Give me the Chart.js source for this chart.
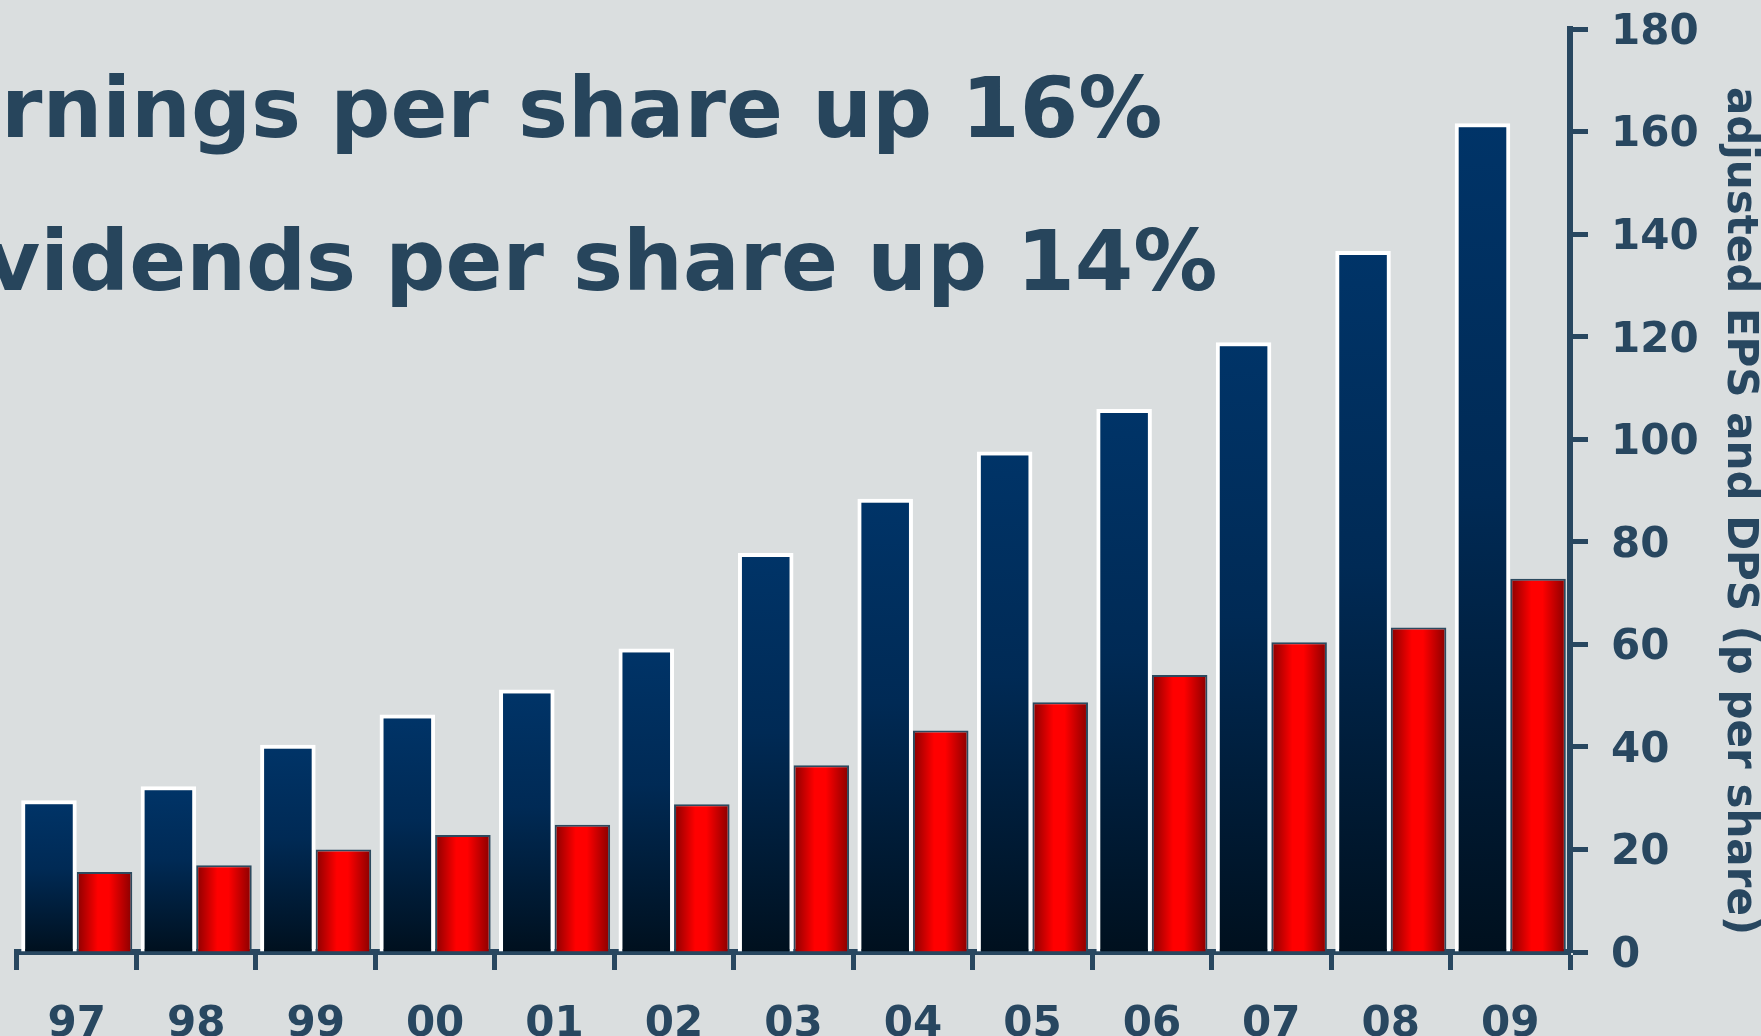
<!DOCTYPE html>
<html>
<head>
<meta charset="utf-8">
<script src="https://cdn.jsdelivr.net/npm/chart.js@4"></script>
<style>
  html, body { margin: 0; padding: 0; background: #dadedf; overflow: hidden; }
  #wrap { position: relative; width: 1761px; height: 1036px; }
  canvas { display: block; }
</style>
</head>
<body>
<div id="wrap"><canvas id="c" width="1761" height="1036"></canvas></div>
<script>
// ---- data ----
const years = ['97', '98', '99', '00', '01', '02', '03', '04', '05', '06', '07', '08', '09'];
const eps = [29.6, 32.3, 40.4, 46.3, 51.2, 59.2, 77.8, 88.4, 97.6, 105.9, 118.9, 136.7, 161.6];
const dps = [15.6, 16.9, 20.0, 22.8, 24.8, 28.8, 36.4, 43.2, 48.7, 54.0, 60.4, 63.3, 72.8];
const yTicksMax = 180;
const yTickStep = 20;
const headlines = ['Earnings per share up 16%', 'Dividends per share up 14%'];
const yTitle = 'adjusted EPS and DPS (p per share)';

// ---- style ----
const INK = '#284760';
const TITLE_INK = '#27455c';
const CAT_PCT = 0.93;
const FONT = 'DejaVu Sans';

function blueFill(ctx) {
  const c = ctx.chart;
  if (!c.chartArea || ctx.type !== 'data') return '#00305f';
  const ys = c.scales.y;
  const top = ys.getPixelForValue(ctx.raw);
  const bot = ys.getPixelForValue(0);
  const g = c.ctx.createLinearGradient(0, top, 0, bot);
  g.addColorStop(0, '#003468');
  g.addColorStop(0.45, '#002a55');
  g.addColorStop(1, '#00101e');
  return g;
}

function redFill(ctx) {
  const c = ctx.chart;
  if (!c.chartArea || ctx.type !== 'data') return '#ff0000';
  const xs = c.scales.x;
  const cw = (xs.right - xs.left) / years.length;
  const cx = xs.getPixelForValue(ctx.dataIndex);
  const w = cw * CAT_PCT / 2;
  const g = c.ctx.createLinearGradient(cx, 0, cx + w, 0);
  g.addColorStop(0, '#8a0000');
  g.addColorStop(0.38, '#ff0000');
  g.addColorStop(0.58, '#ff0000');
  g.addColorStop(1, '#880000');
  return g;
}

const textPlugin = {
  id: 'texts',
  afterDraw(chart) {
    const g = chart.ctx;
    g.save();
    g.fillStyle = TITLE_INK;
    g.font = 'bold 84px "' + FONT + '"';
    g.textAlign = 'left';
    g.textBaseline = 'alphabetic';
    g.fillText(headlines[0], -113, 137);
    g.fillText(headlines[1], -113, 290);
    g.restore();

    g.save();
    g.fillStyle = INK;
    g.font = 'bold 42px "' + FONT + '"';
    g.textAlign = 'center';
    g.textBaseline = 'alphabetic';
    g.translate(1728, 511);
    g.rotate(Math.PI / 2);
    g.fillText(yTitle, 0, 0);
    g.restore();
  }
};

Chart.defaults.font.family = FONT;

new Chart(document.getElementById('c'), {
  type: 'bar',
  data: {
    labels: years,
    datasets: [
      {
        label: 'adjusted EPS',
        data: eps,
        backgroundColor: blueFill,
        borderColor: '#ffffff',
        borderWidth: 4,
        borderSkipped: 'bottom',
        categoryPercentage: CAT_PCT,
        barPercentage: 1.0
      },
      {
        label: 'DPS',
        data: dps,
        backgroundColor: redFill,
        borderColor: '#2c4a5f',
        borderWidth: 2,
        borderSkipped: 'bottom',
        categoryPercentage: CAT_PCT,
        barPercentage: 1.0
      }
    ]
  },
  options: {
    responsive: false,
    animation: false,
    devicePixelRatio: 1,
    layout: { padding: { left: 17, top: 29, right: 0, bottom: 0 } },
    plugins: {
      legend: { display: false },
      tooltip: { enabled: false },
      title: { display: false }
    },
    scales: {
      x: {
        grid: {
          display: true,
          offset: true,
          drawOnChartArea: false,
          drawTicks: true,
          tickLength: 18,
          tickWidth: 5,
          tickColor: INK
        },
        border: { display: true, color: INK, width: 6 },
        ticks: {
          color: INK,
          font: { size: 42, weight: 'bold' },
          padding: 30,
          maxRotation: 0,
          autoSkip: false
        },
        afterFit(s) { s.height = 84; s.paddingLeft = 0; s.paddingRight = 0; }
      },
      y: {
        position: 'right',
        min: 0,
        max: yTicksMax,
        grid: {
          display: true,
          drawOnChartArea: false,
          drawTicks: true,
          tickLength: 18,
          tickWidth: 5,
          tickColor: INK
        },
        border: { display: true, color: INK, width: 6 },
        ticks: {
          stepSize: yTickStep,
          color: INK,
          font: { size: 42, weight: 'bold' },
          padding: 23,
          labelOffset: 4
        },
        afterFit(s) { s.width = 191; s.paddingTop = 0; s.paddingBottom = 0; }
      }
    }
  },
  plugins: [textPlugin]
});
</script>
</body>
</html>
